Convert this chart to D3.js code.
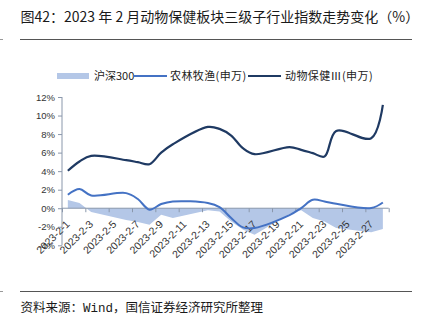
<!DOCTYPE html>
<html>
<head>
<meta charset="utf-8">
<script src="https://cdn.jsdelivr.net/npm/d3@7/dist/d3.min.js"></script>
<style>
  html, body { margin: 0; padding: 0; background: #fff; }
  svg { display: block; }
</style>
</head>
<body>
<svg id="chart" width="421" height="330"></svg>
<script>
// ---- data ----
const title = "图42：2023 年 2 月动物保健板块三级子行业指数走势变化（%）";
const source = ["资料来源：", "Wind", "，国信证券经济研究所整理"];
const seriesNames = ["沪深300", "农林牧渔(申万)", "动物保健Ⅲ(申万)"];
const allDays = d3.range(1, 29);                       // Feb 1 .. Feb 28 (calendar axis)
const labelDays = d3.range(1, 28, 2);                  // 2023-2-1, 2023-2-3, ... 2023-2-27
const tradeDays = [1, 2, 3, 6, 7, 8, 9, 10, 13, 14, 15, 16, 17, 20, 21, 22, 23, 24, 27, 28];
const hs300 = [0.9, 0.56, -0.41, -1.27, -1.49, -1.78, -0.7, -1.06, -0.23, -0.34, -1.42, -2.3, -2.85, -0.63, -0.23, -1.06, -1.42, -2.13, -2.6, -2.24];
const nlmy  = [1.45, 2.07, 1.38, 1.63, 0.99, -0.16, 0.45, 0.73, 0.56, 0.13, -1.06, -2.06, -2.13, -0.75, 0.02, 0.91, 0.73, 0.48, 0.02, 0.62];
const dwbj  = [4.04, 5.04, 5.65, 5.19, 4.97, 4.75, 6.0, 6.9, 8.77, 8.56, 7.84, 6.48, 5.83, 6.6, 6.3, 5.94, 5.58, 8.34, 7.55, 11.14];
const yTicks = [-4, -2, 0, 2, 4, 6, 8, 10, 12];

// ---- layout ----
const svg = d3.select("#chart");
const pL = 62, pR = 388.7, pT = 97, pB = 245.3;
const cjk = "'Noto Sans CJK SC', 'Noto Sans', sans-serif";
const latin = "'Liberation Sans', Arial, sans-serif";
const axisColor = "#8a97ab";
const cArea = "#b4c7e7", cMid = "#4472c4", cDark = "#1f3a63";

const x = d3.scaleBand().domain(allDays).range([pL, pR]).paddingInner(0).paddingOuter(0);
const xEdge = d3.scaleLinear().domain([0, 28]).range([pL, pR]);
const y = d3.scaleLinear().domain([-4, 12]).range([pB, pT]);
const cx = d => x(d) + x.bandwidth() / 2;

// title & rules
svg.append("text").attr("x", 20.5).attr("y", 21.5).attr("font-family", cjk)
  .attr("font-size", 14).attr("fill", "#1a1a1a").text(title);
svg.append("line").attr("x1", 20).attr("x2", 412).attr("y1", 39.5).attr("y2", 39.5)
  .attr("stroke", "#555").attr("stroke-width", 1);
svg.append("line").attr("x1", 20).attr("x2", 412).attr("y1", 291.5).attr("y2", 291.5)
  .attr("stroke", "#555").attr("stroke-width", 1);
svg.append("line").attr("x1", 0).attr("x2", 3).attr("y1", 39.5).attr("y2", 39.5).attr("stroke", "#999");
svg.append("line").attr("x1", 0).attr("x2", 3).attr("y1", 291.5).attr("y2", 291.5).attr("stroke", "#999");
const src = svg.append("text").attr("x", 20.5).attr("y", 311.5).attr("font-family", cjk)
  .attr("font-size", 12.5).attr("fill", "#1a1a1a");
src.append("tspan").text(source[0]);
src.append("tspan").attr("font-family", "'Liberation Mono', 'DejaVu Sans Mono', monospace").attr("font-size", 12.5).text(source[1]);
src.append("tspan").text(source[2]);

// legend
const lg = svg.append("g").attr("font-family", cjk).attr("font-size", 11).attr("fill", "#222");
lg.append("rect").attr("x", 57).attr("y", 73).attr("width", 32).attr("height", 6).attr("fill", cArea);
lg.append("text").attr("x", 94).attr("y", 80).text(seriesNames[0]);
lg.append("line").attr("x1", 133).attr("x2", 167).attr("y1", 76).attr("y2", 76).attr("stroke", cMid).attr("stroke-width", 2);
lg.append("text").attr("x", 170).attr("y", 80).attr("letter-spacing", 0.4).text(seriesNames[1]);
lg.append("line").attr("x1", 248).attr("x2", 281).attr("y1", 76).attr("y2", 76).attr("stroke", cDark).attr("stroke-width", 2);
lg.append("text").attr("x", 285).attr("y", 80).attr("letter-spacing", 0.4).text(seriesNames[2]);

// area (沪深300)
const areaData = tradeDays.map((d, i) => ({ d, v: hs300[i] }));
svg.append("path").datum(areaData)
  .attr("d", d3.area().x(p => cx(p.d)).y0(y(0)).y1(p => y(p.v)))
  .attr("fill", cArea);

// y axis
const yAxis = svg.append("g").attr("transform", `translate(${pL},0)`)
  .call(d3.axisLeft(y).tickValues(yTicks).tickSize(4).tickPadding(3).tickFormat(d => d + "%"));
yAxis.select(".domain").attr("stroke", axisColor).attr("d", `M-0,${pT}V${pB}`);
yAxis.selectAll(".tick line").attr("stroke", axisColor);
yAxis.selectAll(".tick text").attr("font-family", latin).attr("font-size", 9.5).attr("fill", "#333");

// x axis ticks at band edges
const xAxis = svg.append("g").attr("transform", `translate(0,${y(0)})`)
  .call(d3.axisBottom(xEdge).tickValues(d3.range(0, 29, 2)).tickSize(4).tickFormat(""));
xAxis.select(".domain").attr("stroke", axisColor).attr("d", `M${pL},0H${pR}`);
xAxis.selectAll(".tick line").attr("stroke", axisColor);

// x labels at band centres, rotated
const xLab = svg.append("g").attr("transform", `translate(0,${y(0)})`)
  .call(d3.axisBottom(x).tickValues(labelDays).tickSize(0).tickFormat(d => `2023-2-${d}`));
xLab.select(".domain").remove();
xLab.selectAll(".tick text")
  .attr("font-family", latin).attr("font-size", 10.5).attr("fill", "#333")
  .attr("text-anchor", "end").attr("y", 0).attr("dy", "0.35em")
  .attr("transform", "translate(0,14) rotate(-45)");

// lines
const line = d3.line().x(p => cx(p.d)).y(p => y(p.v)).curve(d3.curveCatmullRom.alpha(0.5));
svg.append("path").datum(tradeDays.map((d, i) => ({ d, v: nlmy[i] })))
  .attr("d", line).attr("fill", "none").attr("stroke", cMid).attr("stroke-width", 2);
svg.append("path").datum(tradeDays.map((d, i) => ({ d, v: dwbj[i] })))
  .attr("d", line).attr("fill", "none").attr("stroke", cDark).attr("stroke-width", 2.2);
</script>
</body>
</html>
